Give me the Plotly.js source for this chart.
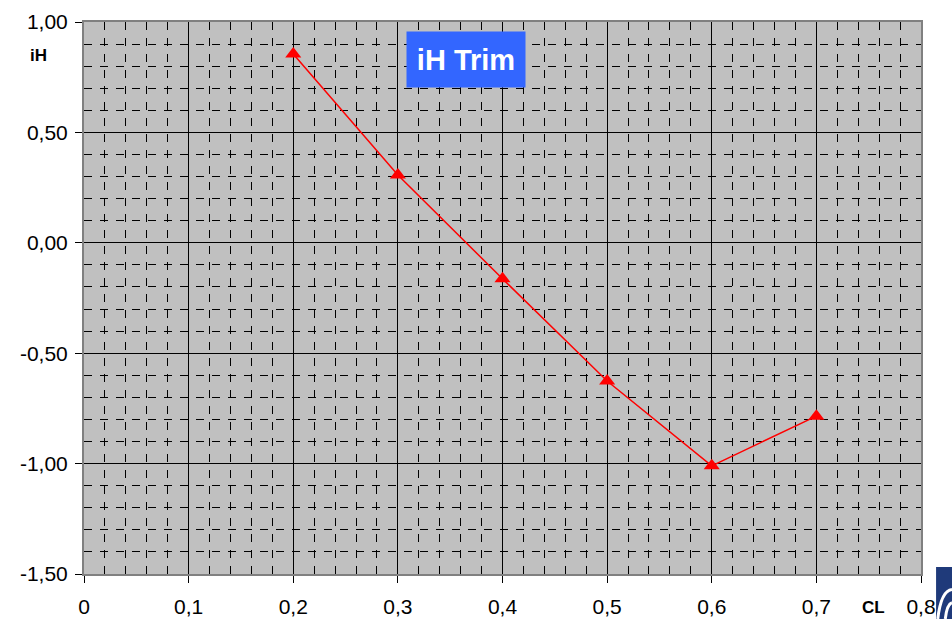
<!DOCTYPE html>
<html>
<head>
<meta charset="utf-8">
<script src="https://cdn.plot.ly/plotly-3.0.1.min.js"></script>
<style>html,body{margin:0;padding:0;background:#fff;}#chart{width:952px;height:619px;}</style>
</head>
<body>
<div id="chart"></div>
<script>
const cl = [0.2, 0.3, 0.4, 0.5, 0.6, 0.7];
const iH = [0.855, 0.307, -0.163, -0.626, -1.010, -0.785];
const yTickVals = [1.0, 0.5, 0.0, -0.5, -1.0, -1.5];
const yTickText = ['1,00', '0,50', '0,00', '-0,50', '-1,00', '-1,50'];
const xTickVals = [0, 0.1, 0.2, 0.3, 0.4, 0.5, 0.6, 0.7, 0.8];
const xTickText = ['0', '0,1', '0,2', '0,3', '0,4', '0,5', '0,6', '0,7', '0,8'];
const chartTitle = 'iH Trim';
const xLabel = 'CL';
const yLabel = 'iH';

const trace = {
  x: cl, y: iH, type: 'scatter', mode: 'lines+markers',
  line: {color: '#FF0000', width: 1.5},
  marker: {symbol: 'triangle-up', size: 14, color: '#FF0000'},
  showlegend: false, cliponaxis: false
};

const FONT = 'Liberation Sans, Arial, sans-serif';
const axisFont = {family: FONT, size: 21, color: '#000'};

const layout = {
  width: 952, height: 619,
  margin: {l: 84, r: 31, t: 22, b: 45},
  paper_bgcolor: '#FFFFFF',
  plot_bgcolor: '#C0C0C0',
  showlegend: false,
  xaxis: {
    range: [0, 0.8], tickmode: 'array', tickvals: xTickVals, ticktext: xTickText,
    showgrid: true, gridcolor: '#000', gridwidth: 1,
    zeroline: false,
    showline: true, linecolor: '#808080', linewidth: 2, mirror: true,
    ticks: 'outside', ticklen: 7, tickcolor: '#000',
    ticklabelstandoff: 6,
    tickfont: axisFont,
    minor: {dtick: 0.02, tick0: 0, showgrid: true, gridcolor: '#000', gridwidth: 1, griddash: '8px,8px'}
  },
  yaxis: {
    range: [-1.5, 1.0], tickmode: 'array', tickvals: yTickVals, ticktext: yTickText,
    showgrid: true, gridcolor: '#000', gridwidth: 1,
    zeroline: false,
    showline: true, linecolor: '#808080', linewidth: 2, mirror: true,
    ticks: 'outside', ticklen: 7, tickcolor: '#000',
    ticklabelstandoff: 3,
    tickfont: axisFont,
    minor: {dtick: 0.1, tick0: 0, showgrid: true, gridcolor: '#000', gridwidth: 1, griddash: '8px,8px'}
  },
  shapes: [
    {type: 'rect', xref: 'paper', yref: 'paper', x0: 1.018, x1: 1.06, y0: -0.1, y1: 0.0127,
     fillcolor: '#1F3A7A', line: {width: 0}, layer: 'above'},
    {type: 'path', xref: 'paper', yref: 'paper',
     path: 'M 1.020,-0.0815 Q 1.024,-0.030 1.037,-0.028',
     line: {color: '#FFFFFF', width: 3}, layer: 'above'},
    {type: 'path', xref: 'paper', yref: 'paper',
     path: 'M 1.029,-0.0815 Q 1.031,-0.055 1.037,-0.052',
     line: {color: '#FFFFFF', width: 3}, layer: 'above'}
  ],
  annotations: [
    {text: '<b>' + chartTitle + '</b>', xref: 'paper', yref: 'paper', x: 0.4564, y: 0.932,
     xanchor: 'center', yanchor: 'middle', showarrow: false,
     font: {family: FONT, size: 29, color: '#FFFFFF'},
     bgcolor: '#3366FF', width: 118, height: 55, borderpad: 0},
    {text: '<b>' + yLabel + '</b>', xref: 'paper', yref: 'paper', x: -0.054, y: 0.94,
     xanchor: 'center', yanchor: 'middle', showarrow: false,
     font: {family: FONT, size: 17, color: '#000'}},
    {text: '<b>' + xLabel + '</b>', xref: 'paper', yref: 'paper', x: 0.9427, y: -0.06,
     xanchor: 'center', yanchor: 'middle', showarrow: false,
     font: {family: FONT, size: 17, color: '#000'}}
  ]
};

Plotly.newPlot('chart', [trace], layout, {displayModeBar: false, staticPlot: true});
</script>
</body>
</html>
